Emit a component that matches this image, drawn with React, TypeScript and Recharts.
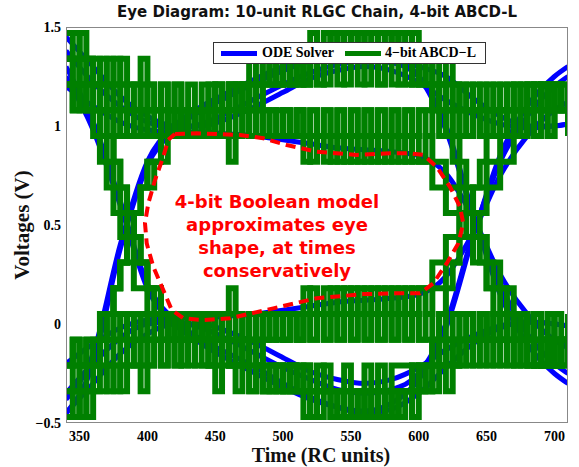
import React from 'react';
import { LineChart, Line, XAxis, YAxis, Legend } from 'recharts';

const X_TICKS = [350, 400, 450, 500, 550, 600, 650, 700];
const Y_TICKS = [-0.5, 0, 0.5, 1, 1.5];
const SERIES_NAMES = ['ODE Solver', '4\u2212bit ABCD\u2212L'];

// 4-bit quantised output levels (V)
const LEVELS = [-0.47, -0.34, -0.21, -0.08, 0.05, 0.18, 0.31, 0.44, 0.56, 0.69, 0.82, 0.95, 1.08, 1.21, 1.34, 1.47];

// ODE solver traces, one per bit pattern
const ODE_T = [340, 360, 380, 400, 420, 440, 460, 480, 500, 520, 540, 560, 580, 600, 620, 640, 660, 680, 700, 710];
const odeA = [1.45, 1.3, 1.15, 1.05, 1.0, 1.0, 1.04, 1.1, 1.17, 1.24, 1.28, 1.3, 1.28, 1.22, 1.13, 1.06, 1.01, 0.99, 1.0, 1.01];
const odeB = [1.3, 1.02, 0.62, 0.2, 0.02, -0.08, -0.15, -0.22, -0.3, -0.37, -0.42, -0.45, -0.43, -0.35, -0.22, -0.1, -0.02, 0.01, 0.0, -0.01];
const odeC = [-0.45, -0.2, 0.38, 0.8, 0.98, 1.08, 1.15, 1.22, 1.28, 1.33, 1.37, 1.38, 1.35, 1.25, 0.98, 0.55, 0.2, -0.05, -0.2, -0.25];
const odeD = [-0.45, -0.3, -0.15, -0.05, 0.0, 0.0, -0.04, -0.1, -0.17, -0.24, -0.28, -0.3, -0.28, -0.22, -0.13, -0.06, -0.01, 0.01, 0.0, -0.01];
const odeE = [1.2, 1.1, 1.02, 0.98, 0.97, 0.97, 0.96, 0.95, 0.93, 0.91, 0.89, 0.88, 0.87, 0.85, 0.76, 0.54, 0.25, 0.05, -0.08, -0.12];
const odeF = [-0.2, -0.1, -0.02, 0.02, 0.03, 0.03, 0.04, 0.05, 0.07, 0.09, 0.11, 0.12, 0.13, 0.15, 0.24, 0.46, 0.75, 0.95, 1.08, 1.12];
const odeG = [1.38, 1.22, 1.1, 1.02, 0.99, 1.01, 1.07, 1.14, 1.21, 1.27, 1.31, 1.33, 1.32, 1.25, 1.0, 0.56, 0.15, -0.1, -0.25, -0.3];
const odeH = [1.25, 0.98, 0.6, 0.18, 0.0, -0.1, -0.18, -0.25, -0.32, -0.38, -0.42, -0.44, -0.4, -0.28, -0.02, 0.44, 0.85, 1.1, 1.25, 1.3];
const odeI = [-0.38, -0.15, 0.4, 0.82, 1.0, 1.1, 1.17, 1.24, 1.3, 1.34, 1.36, 1.35, 1.32, 1.3, 1.25, 1.14, 1.05, 1.0, 1.0, 1.01];
const odeJ = [-0.35, -0.2, -0.07, 0.0, 0.01, -0.02, -0.08, -0.15, -0.22, -0.28, -0.33, -0.35, -0.33, -0.25, 0.0, 0.45, 0.82, 1.05, 1.2, 1.25];

// 4-bit ABCD-L traces, as level indices into LEVELS
const ABCD_T = [340, 345, 350, 355, 360, 365, 370, 375, 380, 385, 390, 395, 400, 405, 410, 415, 420, 425, 430, 435,
  440, 445, 450, 455, 460, 465, 470, 475, 480, 485, 490, 495, 500, 505, 510, 515, 520, 525, 530, 535,
  540, 545, 550, 555, 560, 565, 570, 575, 580, 585, 590, 595, 600, 605, 610, 615, 620, 625, 630, 635,
  640, 645, 650, 655, 660, 665, 670, 675, 680, 685, 690, 695, 700, 705, 710];
const abcdA = [15,15,14,14,13, 14,13,14,13,13, 12,13,12,12,11, 12,11,12,11,12, 11,12,12,11,12, 12,13,12,12,13, 13,13,14,13,14, 13,14,14,13,14, 14,13,14,14,13, 14,13,14,13,13, 13,14,13,13,12, 13,12,12,11,12, 12,11,12,12,11, 12,11,11,12,11, 12,11,12,12,11];
const abcdB = [14,13,13,12,12, 11,10,9,8,7, 6,6,5,4,4, 3,4,3,3,4, 3,2,3,3,2, 2,3,2,2,1, 2,1,1,2,1, 1,0,1,1,0, 0,1,0,0,1, 0,0,1,0,1, 1,1,2,1,2, 2,3,2,3,3, 3,4,3,4,3, 4,3,4,3,4, 3,3,4,3,3];
const abcdC = [0,0,1,1,2, 3,4,5,6,7, 8,9,9,10,10, 11,11,12,11,12, 12,12,13,12,12, 13,12,13,13,14, 13,14,13,14,14, 13,14,14,15,14, 15,14,15,14,15, 14,15,14,15,14, 15,14,13,14,13, 12,12,11,10,9, 8,7,6,5,5, 4,4,3,3,2, 2,3,2,3,2];
const abcdD = [0,0,1,0,1, 1,2,1,2,2, 3,2,3,3,4, 3,4,3,4,3, 4,3,3,4,3, 3,2,3,3,2, 2,2,1,2,1, 2,1,1,2,1, 1,2,1,1,2, 1,2,1,2,2, 2,1,2,2,3, 2,3,3,4,3, 3,4,3,3,4, 3,4,4,3,4, 3,4,3,3,4];
const abcdE = [13,12,13,12,12, 12,11,12,11,12, 11,12,11,11,12, 11,11,12,11,12, 11,12,11,11,10, 11,12,11,12,11, 11,12,11,11,12, 11,10,11,11,10, 11,10,11,10,11, 10,11,10,11,10, 11,10,10,11,10, 10,9,9,8,8, 7,7,6,6,5, 5,4,4,3,4, 3,4,3,3,3];
const abcdF = [2,3,2,3,3, 3,4,3,4,3, 4,3,4,4,3, 4,4,3,4,3, 4,3,4,4,5, 4,3,4,3,4, 4,3,4,4,3, 4,5,4,4,5, 4,5,4,5,4, 5,4,5,4,5, 4,5,5,4,5, 5,6,6,7,7, 8,8,9,9,10, 10,11,11,12,11, 12,11,12,12,12];
const abcdG = [14,14,13,14,13, 13,12,13,12,12, 12,11,12,12,11, 12,12,11,12,12, 12,12,13,12,13, 13,12,13,13,13, 14,13,14,14,13, 14,14,13,14,14, 13,14,14,13,14, 14,13,14,14,13, 14,13,14,13,12, 12,11,10,9,8, 7,6,5,4,3, 3,2,3,2,2, 2,3,2,3,3];
const abcdH = [13,13,12,12,11, 10,9,8,7,6, 5,5,4,4,3, 3,3,2,3,2, 2,2,1,2,2, 1,2,1,2,1, 1,1,2,1,1, 0,1,0,1,1, 0,1,0,1,0, 1,0,1,0,1, 1,2,1,2,3, 4,5,6,7,8, 9,10,11,11,12, 12,13,12,13,13, 13,12,13,12,13];
const abcdI = [1,1,2,2,3, 3,4,5,6,7, 8,9,10,10,11, 11,12,11,12,12, 12,13,12,12,13, 13,13,14,13,14, 14,13,14,14,13, 14,15,14,14,15, 14,15,15,14,15, 15,14,14,15,14, 14,13,14,14,13, 13,12,13,12,12, 12,11,12,11,12, 12,12,11,12,13, 12,13,12,13,13];
const abcdJ = [14,14,13,13,12, 12,11,10,9,8, 7,6,5,5,4, 4,3,4,3,3, 3,2,3,3,2, 2,2,1,2,1, 1,2,1,1,2, 1,0,1,1,0, 1,0,0,1,0, 0,1,1,0,1, 1,2,1,1,2, 2,3,2,3,3, 3,4,3,4,3, 3,3,4,3,2, 3,2,3,2,2];
const abcdK = [13,12,13,12,13, 12,12,11,12,11, 12,11,12,11,12, 11,12,11,12,11, 12,11,12,11,12, 11,12,11,12,11, 12,11,12,11,12, 11,12,11,12,11, 12,11,12,11,12, 11,12,11,12,11, 12,11,12,11,12, 11,12,11,12,11, 12,11,12,11,12, 11,12,12,13,12, 13,12,13,12,13];
const abcdL = [2,3,2,3,2, 3,3,4,3,4, 3,4,3,4,3, 4,3,4,3,4, 3,4,3,4,3, 4,3,4,3,4, 3,4,3,4,3, 4,3,4,3,4, 3,4,3,4,3, 4,3,4,3,4, 3,4,3,4,3, 4,3,4,3,4, 3,4,3,4,3, 4,3,3,2,3, 2,3,2,3,2];
const abcdM = [15,14,15,14,14, 13,14,13,14,13, 13,14,13,12,13, 12,13,12,12,11, 12,11,12,12,13, 12,13,12,13,13, 14,13,14,13,14, 13,14,13,14,15, 14,15,14,15,14, 15,14,15,14,15, 14,15,14,13,14, 13,14,13,12,13, 12,13,12,13,12, 13,12,13,12,13, 12,13,12,13,12];
const abcdN = [0,1,0,1,1, 2,1,2,1,2, 2,1,2,3,2, 3,2,3,3,4, 3,4,3,3,2, 3,2,3,2,2, 1,2,1,2,1, 2,1,2,1,0, 1,0,1,0,1, 0,1,0,1,0, 1,0,1,2,1, 2,1,2,3,2, 3,2,3,2,3, 2,3,2,3,2, 3,2,3,2,3];
const abcdO = [13,12,13,12,12, 11,11,10,9,8, 7,6,5,5,4, 4,3,4,4,3, 4,3,4,3,4, 4,3,4,4,3, 4,4,3,4,4, 5,4,4,5,4, 5,4,5,4,5, 4,5,4,5,4, 5,4,5,5,6, 6,7,7,8,8, 9,9,10,10,11, 11,12,11,12,12, 13,12,13,12,13];
const abcdP = [2,3,2,3,3, 4,4,5,6,7, 8,9,10,10,11, 11,12,11,11,12, 11,12,11,12,11, 11,12,11,11,12, 11,11,12,11,11, 10,11,11,10,11, 10,11,10,11,10, 11,10,11,10,11, 10,11,10,10,9, 9,8,8,7,7, 6,6,5,5,4, 4,3,4,3,3, 2,3,2,3,2];
const abcdQ = [14,13,14,13,13, 12,13,12,13,12, 13,12,13,12,13, 12,13,12,13,12, 13,12,13,12,13, 12,13,12,13,12, 12,11,12,11,12, 11,12,11,12,11, 12,11,12,11,12, 11,12,11,12,11, 12,11,12,12,13, 12,13,12,13,12, 13,12,13,12,13, 12,13,12,13,12, 13,12,13,12,13];
const abcdR = [1,2,1,2,2, 3,2,3,2,3, 2,3,2,3,2, 3,2,3,2,3, 2,3,2,3,2, 3,2,3,2,3, 3,4,3,4,3, 4,3,4,3,4, 3,4,3,4,3, 4,3,4,3,4, 3,4,3,3,2, 3,2,3,2,3, 2,3,2,3,2, 3,2,3,2,3, 2,3,2,3,2];

// hand-drawn eye outline (red dashed)
const EYE_T = [420.3, 436.3, 468.2, 485.4, 502.7, 524.8, 554.3, 578.8, 593.5, 603.4, 613.2, 623, 630.4, 632.8, 629.1, 620.6, 610.7, 600.9, 583.7, 559.1, 524.8, 492.8, 460.9, 441.2, 426.4, 417.9, 411.7, 404.3, 399.5, 398.2, 400.7, 405.6, 411.7, 415.4, 420.3];
const EYE_V = [0.96, 0.963, 0.955, 0.938, 0.904, 0.87, 0.854, 0.862, 0.862, 0.854, 0.794, 0.693, 0.592, 0.508, 0.407, 0.306, 0.205, 0.155, 0.155, 0.151, 0.13, 0.079, 0.029, 0.02, 0.029, 0.071, 0.172, 0.29, 0.407, 0.51, 0.61, 0.727, 0.845, 0.93, 0.96];

const ODE_SERIES = [odeA, odeB, odeC, odeD, odeE, odeF, odeG, odeH, odeI, odeJ];
const ABCD_SERIES = [abcdA, abcdB, abcdC, abcdD, abcdE, abcdF, abcdG, abcdH, abcdI, abcdJ, abcdK, abcdL, abcdM, abcdN, abcdO, abcdP, abcdQ, abcdR];

const SERIF = '"Liberation Serif", "Times New Roman", serif';
const SANS = '"DejaVu Sans", sans-serif';
const BLUE = '#0000ff';
const GREEN = '#008000';

const fmtY = (v: number) => (v < 0 ? '\u2212' + Math.abs(v) : String(v));

const renderLegend = () => (
  <div style={{ position: 'relative', width: 271, height: 20, border: '1px solid #333', background: '#fff', fontFamily: SERIF, fontWeight: 'bold', fontSize: 14, lineHeight: '20px', color: '#000' }}>
    <span style={{ position: 'absolute', left: 7, top: 8, width: 36, height: 5, background: BLUE }} />
    <span style={{ position: 'absolute', left: 48, top: 0, whiteSpace: 'nowrap' }}>{SERIES_NAMES[0]}</span>
    <span style={{ position: 'absolute', left: 131, top: 8, width: 36, height: 5, background: GREEN }} />
    <span style={{ position: 'absolute', left: 171, top: 0, whiteSpace: 'nowrap' }}>{SERIES_NAMES[1]}</span>
  </div>
);

export default function App() {
  const eye = EYE_T.map((t, i) => ({ t, v: EYE_V[i] }));
  return (
    <div style={{ position: 'absolute', left: 0, top: 0, width: 579, height: 467, background: '#fff' }}>
      <LineChart width={579} height={467} margin={{ top: 27, right: 11, bottom: 14, left: 26 }}>
        <XAxis
          type="number"
          dataKey="t"
          domain={[340, 710]}
          ticks={X_TICKS}
          allowDataOverflow
          height={30}
          tickLine={false}
          tickSize={5}
          tickMargin={3}
          axisLine={false}
          tick={{ fill: '#000', fontSize: 14, fontFamily: SERIF, fontWeight: 'bold' }}
        />
        <YAxis
          type="number"
          domain={[-0.5, 1.5]}
          ticks={Y_TICKS}
          allowDataOverflow
          width={40}
          tickLine={false}
          tickSize={3}
          tickMargin={2}
          axisLine={false}
          tickFormatter={fmtY}
          tick={{ fill: '#000', fontSize: 14, fontFamily: SERIF, fontWeight: 'bold' }}
        />
        <Legend content={renderLegend} verticalAlign="middle" align="center" wrapperStyle={{ left: 213, top: 42, width: 273, height: 22 }} />
        {ODE_SERIES.map((vals, n) => (
          <Line
            key={'ode' + n}
            data={ODE_T.map((t, i) => ({ t, v: vals[i] }))}
            dataKey="v"
            type="monotone"
            stroke={BLUE}
            strokeWidth={5}
            dot={false}
            isAnimationActive={false}
          />
        ))}
        {ABCD_SERIES.map((vals, n) => (
          <Line
            key={'abcd' + n}
            data={ABCD_T.map((t, i) => ({ t, v: LEVELS[vals[i]] }))}
            dataKey="v"
            type="stepAfter"
            stroke={GREEN}
            strokeWidth={6}
            dot={false}
            isAnimationActive={false}
          />
        ))}
        <Line
          data={eye}
          dataKey="v"
          type="linear"
          stroke="#ff0000"
          strokeWidth={4}
          strokeDasharray="10 6"
          dot={false}
          isAnimationActive={false}
        />
      </LineChart>
      <div style={{ position: 'absolute', left: 66, top: 27, width: 500, height: 394, border: '1px solid #888', pointerEvents: 'none' }} />
      <div style={{ position: 'absolute', left: 17, top: 3, width: 600, textAlign: 'center', fontFamily: SANS, fontWeight: 'bold', fontSize: 15, lineHeight: '18px', color: '#111' }}>
        Eye Diagram: 10-unit RLGC Chain, 4-bit ABCD-L
      </div>
      <div style={{ position: 'absolute', left: 22, top: 225, transform: 'translate(-50%, -50%) rotate(-90deg)', whiteSpace: 'nowrap', fontFamily: SERIF, fontWeight: 'bold', fontSize: 21, color: '#111' }}>
        Voltages (V)
      </div>
      <div style={{ position: 'absolute', left: 321, top: 455, transform: 'translate(-50%, -50%)', whiteSpace: 'nowrap', fontFamily: SERIF, fontWeight: 'bold', fontSize: 20, lineHeight: '20px', color: '#111' }}>
        Time (RC units)
      </div>
      <div style={{ position: 'absolute', left: 127, top: 190, width: 300, textAlign: 'center', fontFamily: SANS, fontWeight: 'bold', fontSize: 18, lineHeight: '23px', color: '#ff0000' }}>
        4-bit Boolean model
        <br />
        approximates eye
        <br />
        shape, at times
        <br />
        conservatively
      </div>
    </div>
  );
}
